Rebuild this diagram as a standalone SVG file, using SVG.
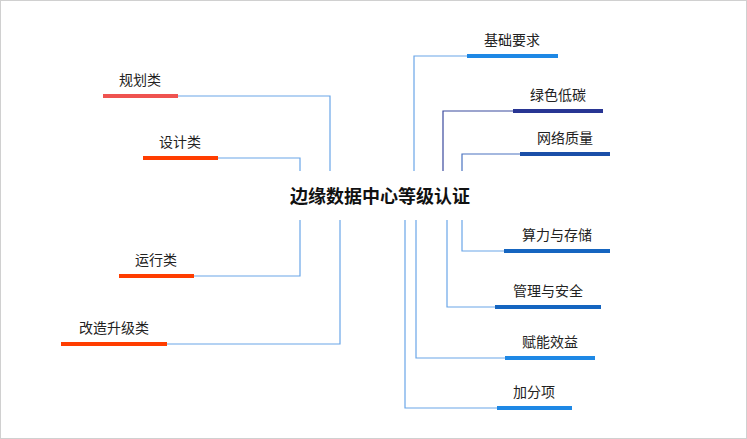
<svg xmlns="http://www.w3.org/2000/svg" width="747" height="439" viewBox="0 0 747 439">
<style>
text{font-family:"Noto Sans CJK SC","Liberation Sans",sans-serif;font-size:14px;fill:#222}
.t{font-size:18px;font-weight:bold;fill:#111}
.c{fill:none;stroke:#6aa6e8;stroke-width:1.2}
.b{stroke-width:4}
</style>
<rect x="0.5" y="0.5" width="746" height="438" fill="#fff" stroke="#d0d0d0"/>
<g id="connectors">
<path class="c" d="M178 96H330V171"/>
<path class="c" d="M218 158H300V171"/>
<path class="c" d="M194 276H300V220"/>
<path class="c" d="M167 344H340V220"/>
<path class="c" d="M467 56H414V171"/>
<path class="c" style="stroke:#3b4a9e" d="M513 111H443V171"/>
<path class="c" style="stroke:#4a72c0" d="M520 154H462V171"/>
<path class="c" d="M504 251H462V220"/>
<path class="c" d="M495 307H447V220"/>
<path class="c" d="M505 358H416V220"/>
<path class="c" d="M497 408H405V220"/>
</g>
<g id="center"><text class="t" x="380" y="203" text-anchor="middle">边缘数据中心等级认证</text></g>
<g id="n1"><line class="b" x1="103" y1="96" x2="178" y2="96" stroke="#ef5350"/><text x="140" y="85" text-anchor="middle">规划类</text></g>
<g id="n2"><line class="b" x1="143" y1="158" x2="218" y2="158" stroke="#ff3d00"/><text x="180" y="147" text-anchor="middle">设计类</text></g>
<g id="n3"><line class="b" x1="119" y1="276" x2="194" y2="276" stroke="#ff3d00"/><text x="156" y="265" text-anchor="middle">运行类</text></g>
<g id="n4"><line class="b" x1="61" y1="344" x2="167" y2="344" stroke="#ff3d00"/><text x="114" y="333" text-anchor="middle">改造升级类</text></g>
<g id="n5"><line class="b" x1="467" y1="56" x2="558" y2="56" stroke="#1e88e5"/><text x="512" y="45" text-anchor="middle">基础要求</text></g>
<g id="n6"><line class="b" x1="513" y1="111" x2="603" y2="111" stroke="#283593"/><text x="558" y="100" text-anchor="middle">绿色低碳</text></g>
<g id="n7"><line class="b" x1="520" y1="154" x2="610" y2="154" stroke="#1a4fa8"/><text x="565" y="143" text-anchor="middle">网络质量</text></g>
<g id="n8"><line class="b" x1="504" y1="251" x2="610" y2="251" stroke="#1565c0"/><text x="557" y="240" text-anchor="middle">算力与存储</text></g>
<g id="n9"><line class="b" x1="495" y1="307" x2="601" y2="307" stroke="#1565c0"/><text x="548" y="296" text-anchor="middle">管理与安全</text></g>
<g id="n10"><line class="b" x1="505" y1="358" x2="595" y2="358" stroke="#1e88e5"/><text x="550" y="347" text-anchor="middle">赋能效益</text></g>
<g id="n11"><line class="b" x1="497" y1="408" x2="572" y2="408" stroke="#1e88e5"/><text x="534" y="397" text-anchor="middle">加分项</text></g>
</svg>
